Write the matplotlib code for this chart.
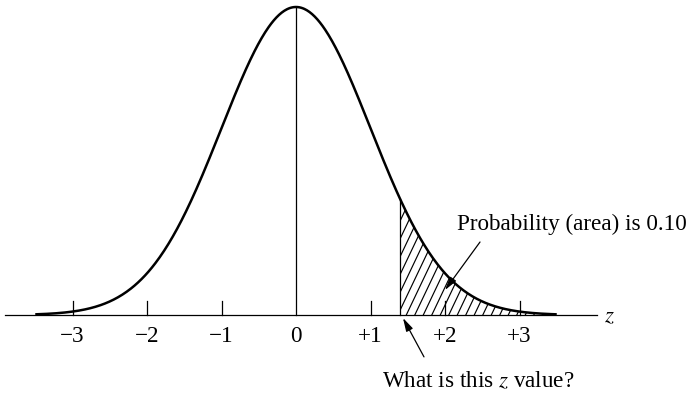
"""Standard normal curve with shaded upper tail (probability 0.10)."""
import numpy as np
import matplotlib
matplotlib.use("Agg")
import matplotlib.pyplot as plt
from matplotlib.patches import Polygon

plt.rcParams["font.family"] = ["Liberation Serif", "DejaVu Serif"]
plt.rcParams["mathtext.fontset"] = "stix"

# chart values
tick_values = [-3, -2, -1, 0, 1, 2, 3]
tick_labels = ["\u22123", "\u22122", "\u22121", "0", "+1", "+2", "+3"]
z_range = (-3.5, 3.5)      # extent of drawn curve
z_cut = 1.4                # left edge of the shaded tail as drawn
tail_text = "Probability (area) is 0.10"
question_text = "What is this $z$ value?"

FS = 16.7

z = np.linspace(z_range[0], z_range[1], 600)
h = np.exp(-z ** 2 / 2)    # density scaled so the peak is 1

fig = plt.figure(figsize=(6.97, 3.97), dpi=100)
ax = fig.add_axes([0, 0, 1, 1])
ax.set_xlim(-296 / 74.5, (697 - 296) / 74.5)
ax.set_ylim(-(397 - 315) / 308, 315 / 308)
ax.axis("off")

# axis line, ticks, labels
ax.plot([-3.906, 4.04], [0, 0], color="black", lw=0.9)
for t, lab in zip(tick_values, tick_labels):
    if t != 0:
        ax.plot([t, t], [0, 0.046], color="black", lw=0.9)
    ax.text(t, -0.088, lab, ha="center", va="baseline", fontsize=FS)
ax.text(4.134, -0.023, "$z$", ha="left", va="baseline", fontsize=FS)

# curve and center line
ax.plot(z, h, color="black", lw=1.8, solid_capstyle="butt")
ax.plot([0, 0], [0, 1], color="black", lw=0.9)

# shaded tail
mask = z >= z_cut
zt = np.concatenate([[z_cut], z[mask]])
ht = np.concatenate([[np.exp(-z_cut ** 2 / 2)], h[mask]])
verts = np.column_stack([np.concatenate([zt, [zt[-1], z_cut]]),
                         np.concatenate([ht, [0, 0]])])
tail = Polygon(verts, closed=True, facecolor="none", edgecolor="none")
ax.add_patch(tail)
ax.plot([z_cut, z_cut], [0, ht[0]], color="black", lw=0.9)
slope = 2.1 * 74.5 / 308
step = 8.5 / 74.5
for x0 in np.arange(z_cut - 3, z_range[1] + step, step):
    ln, = ax.plot([x0, x0 + 3], [0, 3 * slope], color="black", lw=0.85)
    ln.set_clip_path(tail)

# annotations
arrow = dict(arrowstyle="-|>,head_length=0.8,head_width=0.22",
             color="black", lw=0.9, shrinkA=0, shrinkB=0)
ax.text(2.161, 0.276, tail_text, ha="left", va="baseline", fontsize=FS)
ax.annotate("", xy=(2.0, 0.081), xytext=(2.47, 0.237), arrowprops=arrow)
ax.text(1.154, -0.234, question_text, ha="left", va="baseline", fontsize=FS)
ax.annotate("", xy=(1.436, -0.0097), xytext=(1.718, -0.136), arrowprops=arrow)

fig.savefig("out.png", dpi=100)
